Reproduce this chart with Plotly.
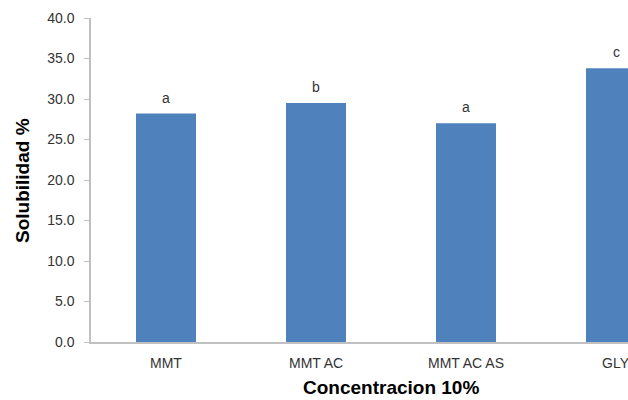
import plotly.graph_objects as go

categories = ["MMT", "MMT AC", "MMT AC AS", "GLY"]
values = [28.2, 29.5, 27.0, 33.8]
letters = ["a", "b", "a", "c"]
y_ticks = [0, 5, 10, 15, 20, 25, 30, 35, 40]

FONT = "Liberation Sans"

fig = go.Figure()
fig.add_trace(go.Bar(
    x=list(range(len(categories))), y=values,
    width=0.4, marker=dict(color="#4f81bd", line=dict(width=0)),
    hoverinfo="skip",
))

for i, (v, t) in enumerate(zip(values, letters)):
    fig.add_annotation(x=i, y=v, text=t, showarrow=False, yshift=16,
                       font=dict(family=FONT, size=14, color="#333333"))

# category labels (the last one sits at the clipped right edge)
for i, c in enumerate(categories):
    fig.add_annotation(x=i, xref="x", y=-0.064, yref="paper", text=c, showarrow=False,
                       xanchor="center", yanchor="middle",
                       font=dict(family=FONT, size=14, color="#333333"))

fig.add_annotation(x=1.5, xref="x", y=-0.14, yref="paper", text="<b>Concentracion 10%</b>",
                   showarrow=False, xanchor="center", yanchor="middle",
                   font=dict(family=FONT, size=19, color="#000000"))
fig.add_annotation(x=-0.1285, xref="paper", y=0.5, yref="paper", text="<b>Solubilidad %</b>",
                   textangle=-90, showarrow=False, xanchor="center", yanchor="middle",
                   font=dict(family=FONT, size=19, color="#000000"))

fig.update_layout(
    width=628, height=400,
    margin=dict(l=91, r=0, t=18, b=57.5, autoexpand=False),
    paper_bgcolor="white", plot_bgcolor="white",
    showlegend=False,
    font=dict(family=FONT, size=14, color="#333333"),
)
fig.update_xaxes(
    range=[-0.5, -0.5 + 537 / 150],
    tickmode="array", tickvals=list(range(len(categories))), ticktext=[""] * len(categories),
    showline=True, linecolor="#c0c0c0", linewidth=1.5,
    showgrid=False, zeroline=False, ticks="",
)
fig.update_yaxes(
    range=[0, 40], tickmode="array", tickvals=y_ticks,
    ticktext=[f"{v:.1f}" for v in y_ticks],
    showline=True, linecolor="#c0c0c0", linewidth=1.5,
    showgrid=False, zeroline=False,
    ticks="outside", ticklen=5, tickcolor="#c0c0c0", tickwidth=1,
    ticklabelstandoff=7,
    tickfont=dict(family=FONT, size=14, color="#333333"),
)

fig.write_html(
    "out.html",
    config={"displayModeBar": False},
    post_script="document.body.style.margin='0';document.body.style.overflow='hidden';",
)
